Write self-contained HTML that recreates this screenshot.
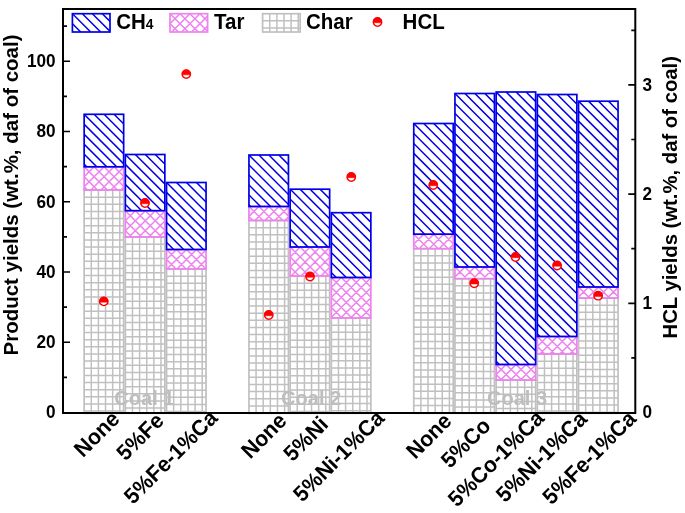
<!DOCTYPE html>
<html><head><meta charset="utf-8"><title>chart</title>
<style>html,body{margin:0;padding:0;background:#fff}svg{display:block;filter:opacity(1)}</style></head>
<body>
<svg width="685" height="513" viewBox="0 0 685 513">
<rect width="685" height="513" fill="#fff"/>
<defs>
<clipPath id="c1"><rect x="84.15" y="190" width="39.5" height="223.3"/></clipPath>
<clipPath id="c2"><rect x="84.15" y="166.8" width="39.5" height="23.2"/></clipPath>
<clipPath id="c3"><rect x="84.15" y="114.3" width="39.5" height="52.5"/></clipPath>
<clipPath id="c4"><rect x="125.35" y="237" width="39.5" height="176.3"/></clipPath>
<clipPath id="c5"><rect x="125.35" y="210.7" width="39.5" height="26.3"/></clipPath>
<clipPath id="c6"><rect x="125.35" y="154.5" width="39.5" height="56.2"/></clipPath>
<clipPath id="c7"><rect x="166.55" y="269" width="39.5" height="144.3"/></clipPath>
<clipPath id="c8"><rect x="166.55" y="249.5" width="39.5" height="19.5"/></clipPath>
<clipPath id="c9"><rect x="166.55" y="182.5" width="39.5" height="67"/></clipPath>
<clipPath id="c10"><rect x="248.95" y="220.5" width="39.5" height="192.8"/></clipPath>
<clipPath id="c11"><rect x="248.95" y="206.5" width="39.5" height="14"/></clipPath>
<clipPath id="c12"><rect x="248.95" y="155" width="39.5" height="51.5"/></clipPath>
<clipPath id="c13"><rect x="290.15" y="276" width="39.5" height="137.3"/></clipPath>
<clipPath id="c14"><rect x="290.15" y="247" width="39.5" height="29"/></clipPath>
<clipPath id="c15"><rect x="290.15" y="189.2" width="39.5" height="57.8"/></clipPath>
<clipPath id="c16"><rect x="331.35" y="318" width="39.5" height="95.3"/></clipPath>
<clipPath id="c17"><rect x="331.35" y="277.5" width="39.5" height="40.5"/></clipPath>
<clipPath id="c18"><rect x="331.35" y="212.7" width="39.5" height="64.8"/></clipPath>
<clipPath id="c19"><rect x="413.75" y="248.7" width="39.5" height="164.6"/></clipPath>
<clipPath id="c20"><rect x="413.75" y="234.2" width="39.5" height="14.5"/></clipPath>
<clipPath id="c21"><rect x="413.75" y="123.5" width="39.5" height="110.7"/></clipPath>
<clipPath id="c22"><rect x="454.95" y="278.7" width="39.5" height="134.6"/></clipPath>
<clipPath id="c23"><rect x="454.95" y="267" width="39.5" height="11.7"/></clipPath>
<clipPath id="c24"><rect x="454.95" y="93.5" width="39.5" height="173.5"/></clipPath>
<clipPath id="c25"><rect x="496.15" y="380" width="39.5" height="33.3"/></clipPath>
<clipPath id="c26"><rect x="496.15" y="364.5" width="39.5" height="15.5"/></clipPath>
<clipPath id="c27"><rect x="496.15" y="92" width="39.5" height="272.5"/></clipPath>
<clipPath id="c28"><rect x="537.35" y="354" width="39.5" height="59.3"/></clipPath>
<clipPath id="c29"><rect x="537.35" y="336.5" width="39.5" height="17.5"/></clipPath>
<clipPath id="c30"><rect x="537.35" y="94.5" width="39.5" height="242"/></clipPath>
<clipPath id="c31"><rect x="578.55" y="298.1" width="39.5" height="115.2"/></clipPath>
<clipPath id="c32"><rect x="578.55" y="287" width="39.5" height="11.1"/></clipPath>
<clipPath id="c33"><rect x="578.55" y="101.2" width="39.5" height="185.8"/></clipPath>
<clipPath id="c34"><rect x="72.4" y="13.7" width="37.6" height="18.3"/></clipPath>
<clipPath id="c35"><rect x="170" y="13.7" width="37.6" height="18.3"/></clipPath>
<clipPath id="c36"><rect x="262.6" y="13.7" width="37.6" height="18.3"/></clipPath>
</defs>
<g clip-path="url(#c1)" stroke="#c0c0c0" stroke-width="1.5" fill="none">
<path d="M91.28 190v223.3M98.41 190v223.3M105.54 190v223.3M112.67 190v223.3M119.8 190v223.3M84.15 197.13h39.5M84.15 204.26h39.5M84.15 211.39h39.5M84.15 218.52h39.5M84.15 225.65h39.5M84.15 232.78h39.5M84.15 239.91h39.5M84.15 247.04h39.5M84.15 254.17h39.5M84.15 261.3h39.5M84.15 268.43h39.5M84.15 275.56h39.5M84.15 282.69h39.5M84.15 289.82h39.5M84.15 296.95h39.5M84.15 304.08h39.5M84.15 311.21h39.5M84.15 318.34h39.5M84.15 325.47h39.5M84.15 332.6h39.5M84.15 339.73h39.5M84.15 346.86h39.5M84.15 353.99h39.5M84.15 361.12h39.5M84.15 368.25h39.5M84.15 375.38h39.5M84.15 382.51h39.5M84.15 389.64h39.5M84.15 396.77h39.5M84.15 403.9h39.5M84.15 411.03h39.5"/>
</g>
<rect x="84.15" y="190" width="39.5" height="223.3" fill="none" stroke="#c0c0c0" stroke-width="1.7"/>
<g clip-path="url(#c4)" stroke="#c0c0c0" stroke-width="1.5" fill="none">
<path d="M132.48 237v176.3M139.61 237v176.3M146.74 237v176.3M153.87 237v176.3M161 237v176.3M125.35 244.13h39.5M125.35 251.26h39.5M125.35 258.39h39.5M125.35 265.52h39.5M125.35 272.65h39.5M125.35 279.78h39.5M125.35 286.91h39.5M125.35 294.04h39.5M125.35 301.17h39.5M125.35 308.3h39.5M125.35 315.43h39.5M125.35 322.56h39.5M125.35 329.69h39.5M125.35 336.82h39.5M125.35 343.95h39.5M125.35 351.08h39.5M125.35 358.21h39.5M125.35 365.34h39.5M125.35 372.47h39.5M125.35 379.6h39.5M125.35 386.73h39.5M125.35 393.86h39.5M125.35 400.99h39.5M125.35 408.12h39.5"/>
</g>
<rect x="125.35" y="237" width="39.5" height="176.3" fill="none" stroke="#c0c0c0" stroke-width="1.7"/>
<g clip-path="url(#c7)" stroke="#c0c0c0" stroke-width="1.5" fill="none">
<path d="M173.68 269v144.3M180.81 269v144.3M187.94 269v144.3M195.07 269v144.3M202.2 269v144.3M166.55 276.13h39.5M166.55 283.26h39.5M166.55 290.39h39.5M166.55 297.52h39.5M166.55 304.65h39.5M166.55 311.78h39.5M166.55 318.91h39.5M166.55 326.04h39.5M166.55 333.17h39.5M166.55 340.3h39.5M166.55 347.43h39.5M166.55 354.56h39.5M166.55 361.69h39.5M166.55 368.82h39.5M166.55 375.95h39.5M166.55 383.08h39.5M166.55 390.21h39.5M166.55 397.34h39.5M166.55 404.47h39.5M166.55 411.6h39.5"/>
</g>
<rect x="166.55" y="269" width="39.5" height="144.3" fill="none" stroke="#c0c0c0" stroke-width="1.7"/>
<g clip-path="url(#c10)" stroke="#c0c0c0" stroke-width="1.5" fill="none">
<path d="M256.08 220.5v192.8M263.21 220.5v192.8M270.34 220.5v192.8M277.47 220.5v192.8M284.6 220.5v192.8M248.95 227.63h39.5M248.95 234.76h39.5M248.95 241.89h39.5M248.95 249.02h39.5M248.95 256.15h39.5M248.95 263.28h39.5M248.95 270.41h39.5M248.95 277.54h39.5M248.95 284.67h39.5M248.95 291.8h39.5M248.95 298.93h39.5M248.95 306.06h39.5M248.95 313.19h39.5M248.95 320.32h39.5M248.95 327.45h39.5M248.95 334.58h39.5M248.95 341.71h39.5M248.95 348.84h39.5M248.95 355.97h39.5M248.95 363.1h39.5M248.95 370.23h39.5M248.95 377.36h39.5M248.95 384.49h39.5M248.95 391.62h39.5M248.95 398.75h39.5M248.95 405.88h39.5M248.95 413.01h39.5"/>
</g>
<rect x="248.95" y="220.5" width="39.5" height="192.8" fill="none" stroke="#c0c0c0" stroke-width="1.7"/>
<g clip-path="url(#c13)" stroke="#c0c0c0" stroke-width="1.5" fill="none">
<path d="M297.28 276v137.3M304.41 276v137.3M311.54 276v137.3M318.67 276v137.3M325.8 276v137.3M290.15 283.13h39.5M290.15 290.26h39.5M290.15 297.39h39.5M290.15 304.52h39.5M290.15 311.65h39.5M290.15 318.78h39.5M290.15 325.91h39.5M290.15 333.04h39.5M290.15 340.17h39.5M290.15 347.3h39.5M290.15 354.43h39.5M290.15 361.56h39.5M290.15 368.69h39.5M290.15 375.82h39.5M290.15 382.95h39.5M290.15 390.08h39.5M290.15 397.21h39.5M290.15 404.34h39.5M290.15 411.47h39.5"/>
</g>
<rect x="290.15" y="276" width="39.5" height="137.3" fill="none" stroke="#c0c0c0" stroke-width="1.7"/>
<g clip-path="url(#c16)" stroke="#c0c0c0" stroke-width="1.5" fill="none">
<path d="M338.48 318v95.3M345.61 318v95.3M352.74 318v95.3M359.87 318v95.3M367 318v95.3M331.35 325.13h39.5M331.35 332.26h39.5M331.35 339.39h39.5M331.35 346.52h39.5M331.35 353.65h39.5M331.35 360.78h39.5M331.35 367.91h39.5M331.35 375.04h39.5M331.35 382.17h39.5M331.35 389.3h39.5M331.35 396.43h39.5M331.35 403.56h39.5M331.35 410.69h39.5"/>
</g>
<rect x="331.35" y="318" width="39.5" height="95.3" fill="none" stroke="#c0c0c0" stroke-width="1.7"/>
<g clip-path="url(#c19)" stroke="#c0c0c0" stroke-width="1.5" fill="none">
<path d="M420.88 248.7v164.6M428.01 248.7v164.6M435.14 248.7v164.6M442.27 248.7v164.6M449.4 248.7v164.6M413.75 255.83h39.5M413.75 262.96h39.5M413.75 270.09h39.5M413.75 277.22h39.5M413.75 284.35h39.5M413.75 291.48h39.5M413.75 298.61h39.5M413.75 305.74h39.5M413.75 312.87h39.5M413.75 320h39.5M413.75 327.13h39.5M413.75 334.26h39.5M413.75 341.39h39.5M413.75 348.52h39.5M413.75 355.65h39.5M413.75 362.78h39.5M413.75 369.91h39.5M413.75 377.04h39.5M413.75 384.17h39.5M413.75 391.3h39.5M413.75 398.43h39.5M413.75 405.56h39.5M413.75 412.69h39.5"/>
</g>
<rect x="413.75" y="248.7" width="39.5" height="164.6" fill="none" stroke="#c0c0c0" stroke-width="1.7"/>
<g clip-path="url(#c22)" stroke="#c0c0c0" stroke-width="1.5" fill="none">
<path d="M462.08 278.7v134.6M469.21 278.7v134.6M476.34 278.7v134.6M483.47 278.7v134.6M490.6 278.7v134.6M454.95 285.83h39.5M454.95 292.96h39.5M454.95 300.09h39.5M454.95 307.22h39.5M454.95 314.35h39.5M454.95 321.48h39.5M454.95 328.61h39.5M454.95 335.74h39.5M454.95 342.87h39.5M454.95 350h39.5M454.95 357.13h39.5M454.95 364.26h39.5M454.95 371.39h39.5M454.95 378.52h39.5M454.95 385.65h39.5M454.95 392.78h39.5M454.95 399.91h39.5M454.95 407.04h39.5"/>
</g>
<rect x="454.95" y="278.7" width="39.5" height="134.6" fill="none" stroke="#c0c0c0" stroke-width="1.7"/>
<g clip-path="url(#c25)" stroke="#c0c0c0" stroke-width="1.5" fill="none">
<path d="M503.28 380v33.3M510.41 380v33.3M517.54 380v33.3M524.67 380v33.3M531.8 380v33.3M496.15 387.13h39.5M496.15 394.26h39.5M496.15 401.39h39.5M496.15 408.52h39.5"/>
</g>
<rect x="496.15" y="380" width="39.5" height="33.3" fill="none" stroke="#c0c0c0" stroke-width="1.7"/>
<g clip-path="url(#c28)" stroke="#c0c0c0" stroke-width="1.5" fill="none">
<path d="M544.48 354v59.3M551.61 354v59.3M558.74 354v59.3M565.87 354v59.3M573 354v59.3M537.35 361.13h39.5M537.35 368.26h39.5M537.35 375.39h39.5M537.35 382.52h39.5M537.35 389.65h39.5M537.35 396.78h39.5M537.35 403.91h39.5M537.35 411.04h39.5"/>
</g>
<rect x="537.35" y="354" width="39.5" height="59.3" fill="none" stroke="#c0c0c0" stroke-width="1.7"/>
<g clip-path="url(#c31)" stroke="#c0c0c0" stroke-width="1.5" fill="none">
<path d="M585.68 298.1v115.2M592.81 298.1v115.2M599.94 298.1v115.2M607.07 298.1v115.2M614.2 298.1v115.2M578.55 305.23h39.5M578.55 312.36h39.5M578.55 319.49h39.5M578.55 326.62h39.5M578.55 333.75h39.5M578.55 340.88h39.5M578.55 348.01h39.5M578.55 355.14h39.5M578.55 362.27h39.5M578.55 369.4h39.5M578.55 376.53h39.5M578.55 383.66h39.5M578.55 390.79h39.5M578.55 397.92h39.5M578.55 405.05h39.5M578.55 412.18h39.5"/>
</g>
<rect x="578.55" y="298.1" width="39.5" height="115.2" fill="none" stroke="#c0c0c0" stroke-width="1.7"/>
<g font-family="Liberation Sans, sans-serif" font-weight="bold" font-size="20.1px" fill="#bebebe"><text transform="translate(114.2 404.6) scale(1 1.03)">Coal 1</text><text transform="translate(281 404.6) scale(1 1.03)">Coal 2</text><text transform="translate(486.9 404.6) scale(1 1.03)">Coal 3</text></g>
<g clip-path="url(#c2)" stroke="#ee82ee" stroke-width="1.5" fill="none">
<path d="M4.35 166.8l23.2 23.2M14.32 166.8l23.2 23.2M24.3 166.8l23.2 23.2M34.27 166.8l23.2 23.2M44.25 166.8l23.2 23.2M54.22 166.8l23.2 23.2M64.2 166.8l23.2 23.2M74.17 166.8l23.2 23.2M84.15 166.8l23.2 23.2M94.12 166.8l23.2 23.2M104.1 166.8l23.2 23.2M114.07 166.8l23.2 23.2M124.05 166.8l23.2 23.2M134.02 166.8l23.2 23.2M144 166.8l23.2 23.2M153.97 166.8l23.2 23.2M163.95 166.8l23.2 23.2M84.15 166.8l-23.2 23.2M94.12 166.8l-23.2 23.2M104.1 166.8l-23.2 23.2M114.07 166.8l-23.2 23.2M124.05 166.8l-23.2 23.2M134.02 166.8l-23.2 23.2M144 166.8l-23.2 23.2M153.97 166.8l-23.2 23.2M163.95 166.8l-23.2 23.2"/>
</g>
<rect x="84.15" y="166.8" width="39.5" height="23.2" fill="none" stroke="#ee82ee" stroke-width="1.7"/>
<g clip-path="url(#c5)" stroke="#ee82ee" stroke-width="1.5" fill="none">
<path d="M45.55 210.7l26.3 26.3M55.52 210.7l26.3 26.3M65.5 210.7l26.3 26.3M75.47 210.7l26.3 26.3M85.45 210.7l26.3 26.3M95.42 210.7l26.3 26.3M105.4 210.7l26.3 26.3M115.38 210.7l26.3 26.3M125.35 210.7l26.3 26.3M135.32 210.7l26.3 26.3M145.3 210.7l26.3 26.3M155.27 210.7l26.3 26.3M165.25 210.7l26.3 26.3M175.22 210.7l26.3 26.3M185.2 210.7l26.3 26.3M195.18 210.7l26.3 26.3M205.15 210.7l26.3 26.3M125.35 210.7l-26.3 26.3M135.32 210.7l-26.3 26.3M145.3 210.7l-26.3 26.3M155.27 210.7l-26.3 26.3M165.25 210.7l-26.3 26.3M175.22 210.7l-26.3 26.3M185.2 210.7l-26.3 26.3M195.18 210.7l-26.3 26.3M205.15 210.7l-26.3 26.3"/>
</g>
<rect x="125.35" y="210.7" width="39.5" height="26.3" fill="none" stroke="#ee82ee" stroke-width="1.7"/>
<g clip-path="url(#c8)" stroke="#ee82ee" stroke-width="1.5" fill="none">
<path d="M96.72 249.5l19.5 19.5M106.7 249.5l19.5 19.5M116.67 249.5l19.5 19.5M126.65 249.5l19.5 19.5M136.62 249.5l19.5 19.5M146.6 249.5l19.5 19.5M156.57 249.5l19.5 19.5M166.55 249.5l19.5 19.5M176.52 249.5l19.5 19.5M186.5 249.5l19.5 19.5M196.47 249.5l19.5 19.5M206.45 249.5l19.5 19.5M216.42 249.5l19.5 19.5M226.4 249.5l19.5 19.5M236.38 249.5l19.5 19.5M166.55 249.5l-19.5 19.5M176.52 249.5l-19.5 19.5M186.5 249.5l-19.5 19.5M196.47 249.5l-19.5 19.5M206.45 249.5l-19.5 19.5M216.42 249.5l-19.5 19.5M226.4 249.5l-19.5 19.5M236.38 249.5l-19.5 19.5"/>
</g>
<rect x="166.55" y="249.5" width="39.5" height="19.5" fill="none" stroke="#ee82ee" stroke-width="1.7"/>
<g clip-path="url(#c11)" stroke="#ee82ee" stroke-width="1.5" fill="none">
<path d="M179.12 206.5l14 14M189.1 206.5l14 14M199.08 206.5l14 14M209.05 206.5l14 14M219.03 206.5l14 14M229 206.5l14 14M238.98 206.5l14 14M248.95 206.5l14 14M258.93 206.5l14 14M268.9 206.5l14 14M278.88 206.5l14 14M288.85 206.5l14 14M298.83 206.5l14 14M308.8 206.5l14 14M318.78 206.5l14 14M248.95 206.5l-14 14M258.93 206.5l-14 14M268.9 206.5l-14 14M278.88 206.5l-14 14M288.85 206.5l-14 14M298.83 206.5l-14 14M308.8 206.5l-14 14M318.78 206.5l-14 14"/>
</g>
<rect x="248.95" y="206.5" width="39.5" height="14" fill="none" stroke="#ee82ee" stroke-width="1.7"/>
<g clip-path="url(#c14)" stroke="#ee82ee" stroke-width="1.5" fill="none">
<path d="M210.35 247l29 29M220.33 247l29 29M230.3 247l29 29M240.28 247l29 29M250.25 247l29 29M260.23 247l29 29M270.2 247l29 29M280.18 247l29 29M290.15 247l29 29M300.13 247l29 29M310.1 247l29 29M320.08 247l29 29M330.05 247l29 29M340.03 247l29 29M350 247l29 29M359.98 247l29 29M369.95 247l29 29M290.15 247l-29 29M300.13 247l-29 29M310.1 247l-29 29M320.08 247l-29 29M330.05 247l-29 29M340.03 247l-29 29M350 247l-29 29M359.98 247l-29 29M369.95 247l-29 29"/>
</g>
<rect x="290.15" y="247" width="39.5" height="29" fill="none" stroke="#ee82ee" stroke-width="1.7"/>
<g clip-path="url(#c17)" stroke="#ee82ee" stroke-width="1.5" fill="none">
<path d="M231.6 277.5l40.5 40.5M241.58 277.5l40.5 40.5M251.55 277.5l40.5 40.5M261.53 277.5l40.5 40.5M271.5 277.5l40.5 40.5M281.48 277.5l40.5 40.5M291.45 277.5l40.5 40.5M301.43 277.5l40.5 40.5M311.4 277.5l40.5 40.5M321.38 277.5l40.5 40.5M331.35 277.5l40.5 40.5M341.33 277.5l40.5 40.5M351.3 277.5l40.5 40.5M361.28 277.5l40.5 40.5M371.25 277.5l40.5 40.5M381.23 277.5l40.5 40.5M391.2 277.5l40.5 40.5M401.18 277.5l40.5 40.5M411.15 277.5l40.5 40.5M421.12 277.5l40.5 40.5M431.1 277.5l40.5 40.5M331.35 277.5l-40.5 40.5M341.33 277.5l-40.5 40.5M351.3 277.5l-40.5 40.5M361.28 277.5l-40.5 40.5M371.25 277.5l-40.5 40.5M381.23 277.5l-40.5 40.5M391.2 277.5l-40.5 40.5M401.18 277.5l-40.5 40.5M411.15 277.5l-40.5 40.5M421.12 277.5l-40.5 40.5M431.1 277.5l-40.5 40.5"/>
</g>
<rect x="331.35" y="277.5" width="39.5" height="40.5" fill="none" stroke="#ee82ee" stroke-width="1.7"/>
<g clip-path="url(#c20)" stroke="#ee82ee" stroke-width="1.5" fill="none">
<path d="M343.93 234.2l14.5 14.5M353.9 234.2l14.5 14.5M363.88 234.2l14.5 14.5M373.85 234.2l14.5 14.5M383.83 234.2l14.5 14.5M393.8 234.2l14.5 14.5M403.78 234.2l14.5 14.5M413.75 234.2l14.5 14.5M423.73 234.2l14.5 14.5M433.7 234.2l14.5 14.5M443.68 234.2l14.5 14.5M453.65 234.2l14.5 14.5M463.63 234.2l14.5 14.5M473.6 234.2l14.5 14.5M483.58 234.2l14.5 14.5M413.75 234.2l-14.5 14.5M423.73 234.2l-14.5 14.5M433.7 234.2l-14.5 14.5M443.68 234.2l-14.5 14.5M453.65 234.2l-14.5 14.5M463.63 234.2l-14.5 14.5M473.6 234.2l-14.5 14.5M483.58 234.2l-14.5 14.5"/>
</g>
<rect x="413.75" y="234.2" width="39.5" height="14.5" fill="none" stroke="#ee82ee" stroke-width="1.7"/>
<g clip-path="url(#c23)" stroke="#ee82ee" stroke-width="1.5" fill="none">
<path d="M385.13 267l11.7 11.7M395.1 267l11.7 11.7M405.08 267l11.7 11.7M415.05 267l11.7 11.7M425.03 267l11.7 11.7M435 267l11.7 11.7M444.98 267l11.7 11.7M454.95 267l11.7 11.7M464.93 267l11.7 11.7M474.9 267l11.7 11.7M484.88 267l11.7 11.7M494.85 267l11.7 11.7M504.83 267l11.7 11.7M514.8 267l11.7 11.7M524.78 267l11.7 11.7M454.95 267l-11.7 11.7M464.93 267l-11.7 11.7M474.9 267l-11.7 11.7M484.88 267l-11.7 11.7M494.85 267l-11.7 11.7M504.83 267l-11.7 11.7M514.8 267l-11.7 11.7M524.78 267l-11.7 11.7"/>
</g>
<rect x="454.95" y="267" width="39.5" height="11.7" fill="none" stroke="#ee82ee" stroke-width="1.7"/>
<g clip-path="url(#c26)" stroke="#ee82ee" stroke-width="1.5" fill="none">
<path d="M426.33 364.5l15.5 15.5M436.3 364.5l15.5 15.5M446.28 364.5l15.5 15.5M456.25 364.5l15.5 15.5M466.23 364.5l15.5 15.5M476.2 364.5l15.5 15.5M486.18 364.5l15.5 15.5M496.15 364.5l15.5 15.5M506.13 364.5l15.5 15.5M516.1 364.5l15.5 15.5M526.08 364.5l15.5 15.5M536.05 364.5l15.5 15.5M546.03 364.5l15.5 15.5M556 364.5l15.5 15.5M565.98 364.5l15.5 15.5M496.15 364.5l-15.5 15.5M506.13 364.5l-15.5 15.5M516.1 364.5l-15.5 15.5M526.08 364.5l-15.5 15.5M536.05 364.5l-15.5 15.5M546.03 364.5l-15.5 15.5M556 364.5l-15.5 15.5M565.98 364.5l-15.5 15.5"/>
</g>
<rect x="496.15" y="364.5" width="39.5" height="15.5" fill="none" stroke="#ee82ee" stroke-width="1.7"/>
<g clip-path="url(#c29)" stroke="#ee82ee" stroke-width="1.5" fill="none">
<path d="M467.53 336.5l17.5 17.5M477.5 336.5l17.5 17.5M487.48 336.5l17.5 17.5M497.45 336.5l17.5 17.5M507.43 336.5l17.5 17.5M517.4 336.5l17.5 17.5M527.38 336.5l17.5 17.5M537.35 336.5l17.5 17.5M547.33 336.5l17.5 17.5M557.3 336.5l17.5 17.5M567.27 336.5l17.5 17.5M577.25 336.5l17.5 17.5M587.23 336.5l17.5 17.5M597.2 336.5l17.5 17.5M607.18 336.5l17.5 17.5M537.35 336.5l-17.5 17.5M547.33 336.5l-17.5 17.5M557.3 336.5l-17.5 17.5M567.27 336.5l-17.5 17.5M577.25 336.5l-17.5 17.5M587.23 336.5l-17.5 17.5M597.2 336.5l-17.5 17.5M607.18 336.5l-17.5 17.5"/>
</g>
<rect x="537.35" y="336.5" width="39.5" height="17.5" fill="none" stroke="#ee82ee" stroke-width="1.7"/>
<g clip-path="url(#c32)" stroke="#ee82ee" stroke-width="1.5" fill="none">
<path d="M508.73 287l11.1 11.1M518.7 287l11.1 11.1M528.68 287l11.1 11.1M538.65 287l11.1 11.1M548.63 287l11.1 11.1M558.6 287l11.1 11.1M568.58 287l11.1 11.1M578.55 287l11.1 11.1M588.53 287l11.1 11.1M598.5 287l11.1 11.1M608.48 287l11.1 11.1M618.45 287l11.1 11.1M628.43 287l11.1 11.1M638.4 287l11.1 11.1M648.38 287l11.1 11.1M578.55 287l-11.1 11.1M588.53 287l-11.1 11.1M598.5 287l-11.1 11.1M608.48 287l-11.1 11.1M618.45 287l-11.1 11.1M628.43 287l-11.1 11.1M638.4 287l-11.1 11.1M648.38 287l-11.1 11.1"/>
</g>
<rect x="578.55" y="287" width="39.5" height="11.1" fill="none" stroke="#ee82ee" stroke-width="1.7"/>
<g clip-path="url(#c3)" stroke="#0000e8" stroke-width="1.5" fill="none">
<path d="M-25.58 114.3l52.5 52.5M-15.6 114.3l52.5 52.5M-5.62 114.3l52.5 52.5M4.35 114.3l52.5 52.5M14.32 114.3l52.5 52.5M24.3 114.3l52.5 52.5M34.27 114.3l52.5 52.5M44.25 114.3l52.5 52.5M54.22 114.3l52.5 52.5M64.2 114.3l52.5 52.5M74.17 114.3l52.5 52.5M84.15 114.3l52.5 52.5M94.12 114.3l52.5 52.5M104.1 114.3l52.5 52.5M114.07 114.3l52.5 52.5M124.05 114.3l52.5 52.5M134.02 114.3l52.5 52.5M144 114.3l52.5 52.5M153.97 114.3l52.5 52.5M163.95 114.3l52.5 52.5M173.92 114.3l52.5 52.5M183.9 114.3l52.5 52.5M193.88 114.3l52.5 52.5"/>
</g>
<rect x="84.15" y="114.3" width="39.5" height="52.5" fill="none" stroke="#0000e8" stroke-width="1.7"/>
<g clip-path="url(#c6)" stroke="#0000e8" stroke-width="1.5" fill="none">
<path d="M15.62 154.5l56.2 56.2M25.6 154.5l56.2 56.2M35.58 154.5l56.2 56.2M45.55 154.5l56.2 56.2M55.52 154.5l56.2 56.2M65.5 154.5l56.2 56.2M75.47 154.5l56.2 56.2M85.45 154.5l56.2 56.2M95.42 154.5l56.2 56.2M105.4 154.5l56.2 56.2M115.38 154.5l56.2 56.2M125.35 154.5l56.2 56.2M135.32 154.5l56.2 56.2M145.3 154.5l56.2 56.2M155.27 154.5l56.2 56.2M165.25 154.5l56.2 56.2M175.22 154.5l56.2 56.2M185.2 154.5l56.2 56.2M195.18 154.5l56.2 56.2M205.15 154.5l56.2 56.2M215.12 154.5l56.2 56.2M225.1 154.5l56.2 56.2M235.07 154.5l56.2 56.2"/>
</g>
<rect x="125.35" y="154.5" width="39.5" height="56.2" fill="none" stroke="#0000e8" stroke-width="1.7"/>
<g clip-path="url(#c9)" stroke="#0000e8" stroke-width="1.5" fill="none">
<path d="M46.85 182.5l67 67M56.82 182.5l67 67M66.8 182.5l67 67M76.77 182.5l67 67M86.75 182.5l67 67M96.72 182.5l67 67M106.7 182.5l67 67M116.67 182.5l67 67M126.65 182.5l67 67M136.62 182.5l67 67M146.6 182.5l67 67M156.57 182.5l67 67M166.55 182.5l67 67M176.52 182.5l67 67M186.5 182.5l67 67M196.47 182.5l67 67M206.45 182.5l67 67M216.42 182.5l67 67M226.4 182.5l67 67M236.38 182.5l67 67M246.35 182.5l67 67M256.32 182.5l67 67M266.3 182.5l67 67M276.27 182.5l67 67M286.25 182.5l67 67"/>
</g>
<rect x="166.55" y="182.5" width="39.5" height="67" fill="none" stroke="#0000e8" stroke-width="1.7"/>
<g clip-path="url(#c12)" stroke="#0000e8" stroke-width="1.5" fill="none">
<path d="M139.23 155l51.5 51.5M149.2 155l51.5 51.5M159.18 155l51.5 51.5M169.15 155l51.5 51.5M179.12 155l51.5 51.5M189.1 155l51.5 51.5M199.08 155l51.5 51.5M209.05 155l51.5 51.5M219.03 155l51.5 51.5M229 155l51.5 51.5M238.98 155l51.5 51.5M248.95 155l51.5 51.5M258.93 155l51.5 51.5M268.9 155l51.5 51.5M278.88 155l51.5 51.5M288.85 155l51.5 51.5M298.83 155l51.5 51.5M308.8 155l51.5 51.5M318.78 155l51.5 51.5M328.75 155l51.5 51.5M338.73 155l51.5 51.5M348.7 155l51.5 51.5M358.68 155l51.5 51.5"/>
</g>
<rect x="248.95" y="155" width="39.5" height="51.5" fill="none" stroke="#0000e8" stroke-width="1.7"/>
<g clip-path="url(#c15)" stroke="#0000e8" stroke-width="1.5" fill="none">
<path d="M180.43 189.2l57.8 57.8M190.4 189.2l57.8 57.8M200.38 189.2l57.8 57.8M210.35 189.2l57.8 57.8M220.33 189.2l57.8 57.8M230.3 189.2l57.8 57.8M240.28 189.2l57.8 57.8M250.25 189.2l57.8 57.8M260.23 189.2l57.8 57.8M270.2 189.2l57.8 57.8M280.18 189.2l57.8 57.8M290.15 189.2l57.8 57.8M300.13 189.2l57.8 57.8M310.1 189.2l57.8 57.8M320.08 189.2l57.8 57.8M330.05 189.2l57.8 57.8M340.03 189.2l57.8 57.8M350 189.2l57.8 57.8M359.98 189.2l57.8 57.8M369.95 189.2l57.8 57.8M379.93 189.2l57.8 57.8M389.9 189.2l57.8 57.8M399.88 189.2l57.8 57.8"/>
</g>
<rect x="290.15" y="189.2" width="39.5" height="57.8" fill="none" stroke="#0000e8" stroke-width="1.7"/>
<g clip-path="url(#c18)" stroke="#0000e8" stroke-width="1.5" fill="none">
<path d="M211.65 212.7l64.8 64.8M221.63 212.7l64.8 64.8M231.6 212.7l64.8 64.8M241.58 212.7l64.8 64.8M251.55 212.7l64.8 64.8M261.53 212.7l64.8 64.8M271.5 212.7l64.8 64.8M281.48 212.7l64.8 64.8M291.45 212.7l64.8 64.8M301.43 212.7l64.8 64.8M311.4 212.7l64.8 64.8M321.38 212.7l64.8 64.8M331.35 212.7l64.8 64.8M341.33 212.7l64.8 64.8M351.3 212.7l64.8 64.8M361.28 212.7l64.8 64.8M371.25 212.7l64.8 64.8M381.23 212.7l64.8 64.8M391.2 212.7l64.8 64.8M401.18 212.7l64.8 64.8M411.15 212.7l64.8 64.8M421.12 212.7l64.8 64.8M431.1 212.7l64.8 64.8M441.08 212.7l64.8 64.8M451.05 212.7l64.8 64.8"/>
</g>
<rect x="331.35" y="212.7" width="39.5" height="64.8" fill="none" stroke="#0000e8" stroke-width="1.7"/>
<g clip-path="url(#c21)" stroke="#0000e8" stroke-width="1.5" fill="none">
<path d="M244.18 123.5l110.7 110.7M254.15 123.5l110.7 110.7M264.13 123.5l110.7 110.7M274.1 123.5l110.7 110.7M284.08 123.5l110.7 110.7M294.05 123.5l110.7 110.7M304.03 123.5l110.7 110.7M314 123.5l110.7 110.7M323.98 123.5l110.7 110.7M333.95 123.5l110.7 110.7M343.93 123.5l110.7 110.7M353.9 123.5l110.7 110.7M363.88 123.5l110.7 110.7M373.85 123.5l110.7 110.7M383.83 123.5l110.7 110.7M393.8 123.5l110.7 110.7M403.78 123.5l110.7 110.7M413.75 123.5l110.7 110.7M423.73 123.5l110.7 110.7M433.7 123.5l110.7 110.7M443.68 123.5l110.7 110.7M453.65 123.5l110.7 110.7M463.63 123.5l110.7 110.7M473.6 123.5l110.7 110.7M483.58 123.5l110.7 110.7M493.55 123.5l110.7 110.7M503.53 123.5l110.7 110.7M513.5 123.5l110.7 110.7M523.48 123.5l110.7 110.7M533.45 123.5l110.7 110.7M543.43 123.5l110.7 110.7M553.4 123.5l110.7 110.7M563.38 123.5l110.7 110.7M573.35 123.5l110.7 110.7M583.33 123.5l110.7 110.7"/>
</g>
<rect x="413.75" y="123.5" width="39.5" height="110.7" fill="none" stroke="#0000e8" stroke-width="1.7"/>
<g clip-path="url(#c24)" stroke="#0000e8" stroke-width="1.5" fill="none">
<path d="M225.53 93.5l173.5 173.5M235.5 93.5l173.5 173.5M245.48 93.5l173.5 173.5M255.45 93.5l173.5 173.5M265.43 93.5l173.5 173.5M275.4 93.5l173.5 173.5M285.38 93.5l173.5 173.5M295.35 93.5l173.5 173.5M305.33 93.5l173.5 173.5M315.3 93.5l173.5 173.5M325.28 93.5l173.5 173.5M335.25 93.5l173.5 173.5M345.23 93.5l173.5 173.5M355.2 93.5l173.5 173.5M365.18 93.5l173.5 173.5M375.15 93.5l173.5 173.5M385.13 93.5l173.5 173.5M395.1 93.5l173.5 173.5M405.08 93.5l173.5 173.5M415.05 93.5l173.5 173.5M425.03 93.5l173.5 173.5M435 93.5l173.5 173.5M444.98 93.5l173.5 173.5M454.95 93.5l173.5 173.5M464.93 93.5l173.5 173.5M474.9 93.5l173.5 173.5M484.88 93.5l173.5 173.5M494.85 93.5l173.5 173.5M504.83 93.5l173.5 173.5M514.8 93.5l173.5 173.5M524.78 93.5l173.5 173.5M534.75 93.5l173.5 173.5M544.73 93.5l173.5 173.5M554.7 93.5l173.5 173.5M564.68 93.5l173.5 173.5M574.65 93.5l173.5 173.5M584.62 93.5l173.5 173.5M594.6 93.5l173.5 173.5M604.58 93.5l173.5 173.5M614.55 93.5l173.5 173.5M624.53 93.5l173.5 173.5M634.5 93.5l173.5 173.5M644.48 93.5l173.5 173.5M654.45 93.5l173.5 173.5M664.43 93.5l173.5 173.5M674.4 93.5l173.5 173.5M684.38 93.5l173.5 173.5"/>
</g>
<rect x="454.95" y="93.5" width="39.5" height="173.5" fill="none" stroke="#0000e8" stroke-width="1.7"/>
<g clip-path="url(#c27)" stroke="#0000e8" stroke-width="1.5" fill="none">
<path d="M166.98 92l272.5 272.5M176.95 92l272.5 272.5M186.93 92l272.5 272.5M196.9 92l272.5 272.5M206.88 92l272.5 272.5M216.85 92l272.5 272.5M226.83 92l272.5 272.5M236.8 92l272.5 272.5M246.78 92l272.5 272.5M256.75 92l272.5 272.5M266.73 92l272.5 272.5M276.7 92l272.5 272.5M286.68 92l272.5 272.5M296.65 92l272.5 272.5M306.62 92l272.5 272.5M316.6 92l272.5 272.5M326.58 92l272.5 272.5M336.55 92l272.5 272.5M346.53 92l272.5 272.5M356.5 92l272.5 272.5M366.48 92l272.5 272.5M376.45 92l272.5 272.5M386.43 92l272.5 272.5M396.4 92l272.5 272.5M406.38 92l272.5 272.5M416.35 92l272.5 272.5M426.33 92l272.5 272.5M436.3 92l272.5 272.5M446.28 92l272.5 272.5M456.25 92l272.5 272.5M466.23 92l272.5 272.5M476.2 92l272.5 272.5M486.18 92l272.5 272.5M496.15 92l272.5 272.5M506.13 92l272.5 272.5M516.1 92l272.5 272.5M526.08 92l272.5 272.5M536.05 92l272.5 272.5M546.03 92l272.5 272.5M556 92l272.5 272.5M565.98 92l272.5 272.5M575.95 92l272.5 272.5M585.93 92l272.5 272.5M595.9 92l272.5 272.5M605.88 92l272.5 272.5M615.85 92l272.5 272.5M625.83 92l272.5 272.5M635.8 92l272.5 272.5M645.78 92l272.5 272.5M655.75 92l272.5 272.5M665.73 92l272.5 272.5M675.7 92l272.5 272.5M685.68 92l272.5 272.5M695.65 92l272.5 272.5M705.62 92l272.5 272.5M715.6 92l272.5 272.5M725.58 92l272.5 272.5M735.55 92l272.5 272.5M745.53 92l272.5 272.5M755.5 92l272.5 272.5M765.48 92l272.5 272.5M775.45 92l272.5 272.5M785.42 92l272.5 272.5M795.4 92l272.5 272.5M805.38 92l272.5 272.5M815.35 92l272.5 272.5M825.33 92l272.5 272.5"/>
</g>
<rect x="496.15" y="92" width="39.5" height="272.5" fill="none" stroke="#0000e8" stroke-width="1.7"/>
<g clip-path="url(#c30)" stroke="#0000e8" stroke-width="1.5" fill="none">
<path d="M238.1 94.5l242 242M248.08 94.5l242 242M258.05 94.5l242 242M268.03 94.5l242 242M278 94.5l242 242M287.98 94.5l242 242M297.95 94.5l242 242M307.93 94.5l242 242M317.9 94.5l242 242M327.88 94.5l242 242M337.85 94.5l242 242M347.83 94.5l242 242M357.8 94.5l242 242M367.78 94.5l242 242M377.75 94.5l242 242M387.73 94.5l242 242M397.7 94.5l242 242M407.68 94.5l242 242M417.65 94.5l242 242M427.62 94.5l242 242M437.6 94.5l242 242M447.58 94.5l242 242M457.55 94.5l242 242M467.53 94.5l242 242M477.5 94.5l242 242M487.48 94.5l242 242M497.45 94.5l242 242M507.43 94.5l242 242M517.4 94.5l242 242M527.38 94.5l242 242M537.35 94.5l242 242M547.33 94.5l242 242M557.3 94.5l242 242M567.27 94.5l242 242M577.25 94.5l242 242M587.23 94.5l242 242M597.2 94.5l242 242M607.18 94.5l242 242M617.15 94.5l242 242M627.12 94.5l242 242M637.1 94.5l242 242M647.08 94.5l242 242M657.05 94.5l242 242M667.02 94.5l242 242M677 94.5l242 242M686.98 94.5l242 242M696.95 94.5l242 242M706.92 94.5l242 242M716.9 94.5l242 242M726.88 94.5l242 242M736.85 94.5l242 242M746.83 94.5l242 242M756.8 94.5l242 242M766.77 94.5l242 242M776.75 94.5l242 242M786.73 94.5l242 242M796.7 94.5l242 242M806.67 94.5l242 242M816.65 94.5l242 242M826.62 94.5l242 242M836.6 94.5l242 242"/>
</g>
<rect x="537.35" y="94.5" width="39.5" height="242" fill="none" stroke="#0000e8" stroke-width="1.7"/>
<g clip-path="url(#c33)" stroke="#0000e8" stroke-width="1.5" fill="none">
<path d="M339.15 101.2l185.8 185.8M349.13 101.2l185.8 185.8M359.1 101.2l185.8 185.8M369.08 101.2l185.8 185.8M379.05 101.2l185.8 185.8M389.03 101.2l185.8 185.8M399 101.2l185.8 185.8M408.98 101.2l185.8 185.8M418.95 101.2l185.8 185.8M428.93 101.2l185.8 185.8M438.9 101.2l185.8 185.8M448.88 101.2l185.8 185.8M458.85 101.2l185.8 185.8M468.83 101.2l185.8 185.8M478.8 101.2l185.8 185.8M488.78 101.2l185.8 185.8M498.75 101.2l185.8 185.8M508.73 101.2l185.8 185.8M518.7 101.2l185.8 185.8M528.68 101.2l185.8 185.8M538.65 101.2l185.8 185.8M548.63 101.2l185.8 185.8M558.6 101.2l185.8 185.8M568.58 101.2l185.8 185.8M578.55 101.2l185.8 185.8M588.53 101.2l185.8 185.8M598.5 101.2l185.8 185.8M608.48 101.2l185.8 185.8M618.45 101.2l185.8 185.8M628.43 101.2l185.8 185.8M638.4 101.2l185.8 185.8M648.38 101.2l185.8 185.8M658.35 101.2l185.8 185.8M668.33 101.2l185.8 185.8M678.3 101.2l185.8 185.8M688.28 101.2l185.8 185.8M698.25 101.2l185.8 185.8M708.23 101.2l185.8 185.8M718.2 101.2l185.8 185.8M728.18 101.2l185.8 185.8M738.15 101.2l185.8 185.8M748.12 101.2l185.8 185.8M758.1 101.2l185.8 185.8M768.08 101.2l185.8 185.8M778.05 101.2l185.8 185.8M788.03 101.2l185.8 185.8M798 101.2l185.8 185.8M807.98 101.2l185.8 185.8M817.95 101.2l185.8 185.8"/>
</g>
<rect x="578.55" y="101.2" width="39.5" height="185.8" fill="none" stroke="#0000e8" stroke-width="1.7"/>
<rect x="63" y="9" width="572.3" height="404" fill="none" stroke="#000" stroke-width="2"/>
<path d="M63 377.38h4M63 342.25h7M63 307.12h4M63 272h7M63 236.88h4M63 201.75h7M63 166.62h4M63 131.5h7M63 96.38h4M63 61.25h7M63 26.12h4M635.3 357.9h-4M635.3 303.3h-7M635.3 248.7h-4M635.3 194.1h-7M635.3 139.5h-4M635.3 84.9h-7M635.3 30.3h-4" stroke="#000" stroke-width="1.7" fill="none"/>
<g font-family="Liberation Sans, sans-serif" font-weight="bold" font-size="17.2px" fill="#000">
<text transform="translate(55.6 417.5) scale(1 1.04)" text-anchor="end">0</text>
<text transform="translate(55.6 348.05) scale(1 1.04)" text-anchor="end">20</text>
<text transform="translate(55.6 277.8) scale(1 1.04)" text-anchor="end">40</text>
<text transform="translate(55.6 207.55) scale(1 1.04)" text-anchor="end">60</text>
<text transform="translate(55.6 137.3) scale(1 1.04)" text-anchor="end">80</text>
<text transform="translate(55.6 67.05) scale(1 1.04)" text-anchor="end">100</text>
<text transform="translate(642.5 417.5) scale(1 1.04)">0</text>
<text transform="translate(642.5 309.1) scale(1 1.04)">1</text>
<text transform="translate(642.5 199.9) scale(1 1.04)">2</text>
<text transform="translate(642.5 90.7) scale(1 1.04)">3</text>
</g>
<g transform="translate(103.8 301.4)"><circle r="4.2" fill="#fff" stroke="#ff0000" stroke-width="1.4"/><path d="M-4.13 0.75A4.2 4.2 0 1 1 4.13 0.75Z" stroke="#ff0000" stroke-width="0.5" fill="#ff0000"/></g>
<g transform="translate(145 203)"><circle r="4.2" fill="#fff" stroke="#ff0000" stroke-width="1.4"/><path d="M-4.13 0.75A4.2 4.2 0 1 1 4.13 0.75Z" stroke="#ff0000" stroke-width="0.5" fill="#ff0000"/></g>
<g transform="translate(186.3 74.1)"><circle r="4.2" fill="#fff" stroke="#ff0000" stroke-width="1.4"/><path d="M-4.13 0.75A4.2 4.2 0 1 1 4.13 0.75Z" stroke="#ff0000" stroke-width="0.5" fill="#ff0000"/></g>
<g transform="translate(268.75 315)"><circle r="4.2" fill="#fff" stroke="#ff0000" stroke-width="1.4"/><path d="M-4.13 0.75A4.2 4.2 0 1 1 4.13 0.75Z" stroke="#ff0000" stroke-width="0.5" fill="#ff0000"/></g>
<g transform="translate(310 276.5)"><circle r="4.2" fill="#fff" stroke="#ff0000" stroke-width="1.4"/><path d="M-4.13 0.75A4.2 4.2 0 1 1 4.13 0.75Z" stroke="#ff0000" stroke-width="0.5" fill="#ff0000"/></g>
<g transform="translate(351.25 177)"><circle r="4.2" fill="#fff" stroke="#ff0000" stroke-width="1.4"/><path d="M-4.13 0.75A4.2 4.2 0 1 1 4.13 0.75Z" stroke="#ff0000" stroke-width="0.5" fill="#ff0000"/></g>
<g transform="translate(433.25 185)"><circle r="4.2" fill="#fff" stroke="#ff0000" stroke-width="1.4"/><path d="M-4.13 0.75A4.2 4.2 0 1 1 4.13 0.75Z" stroke="#ff0000" stroke-width="0.5" fill="#ff0000"/></g>
<g transform="translate(474.25 283.25)"><circle r="4.2" fill="#fff" stroke="#ff0000" stroke-width="1.4"/><path d="M-4.13 0.75A4.2 4.2 0 1 1 4.13 0.75Z" stroke="#ff0000" stroke-width="0.5" fill="#ff0000"/></g>
<g transform="translate(515.5 257)"><circle r="4.2" fill="#fff" stroke="#ff0000" stroke-width="1.4"/><path d="M-4.13 0.75A4.2 4.2 0 1 1 4.13 0.75Z" stroke="#ff0000" stroke-width="0.5" fill="#ff0000"/></g>
<g transform="translate(557.1 265.5)"><circle r="4.2" fill="#fff" stroke="#ff0000" stroke-width="1.4"/><path d="M-4.13 0.75A4.2 4.2 0 1 1 4.13 0.75Z" stroke="#ff0000" stroke-width="0.5" fill="#ff0000"/></g>
<g transform="translate(598.1 295.7)"><circle r="4.2" fill="#fff" stroke="#ff0000" stroke-width="1.4"/><path d="M-4.13 0.75A4.2 4.2 0 1 1 4.13 0.75Z" stroke="#ff0000" stroke-width="0.5" fill="#ff0000"/></g>
<g font-family="Liberation Sans, sans-serif" font-weight="bold" font-size="21.4px" fill="#000" text-anchor="end">
<text transform="translate(120.83 420.4) rotate(-45) scale(1 1.03)">None</text>
<text transform="translate(165.1 422.1) rotate(-45) scale(1 1.03)">5%Fe</text>
<text transform="translate(218.84 419.4) rotate(-45) scale(1 1.03)">5%Fe-1%Ca</text>
<text transform="translate(288.03 422) rotate(-45) scale(1 1.03)">None</text>
<text transform="translate(329.52 425.6) rotate(-45) scale(1 1.03)">5%Ni</text>
<text transform="translate(385.56 419.7) rotate(-45) scale(1 1.03)">5%Ni-1%Ca</text>
<text transform="translate(453.03 422.3) rotate(-45) scale(1 1.03)">None</text>
<text transform="translate(491.96 427.2) rotate(-45) scale(1 1.03)">5%Co</text>
<text transform="translate(545.4 419.6) rotate(-45) scale(1 1.03)">5%Co-1%Ca</text>
<text transform="translate(588.36 420.3) rotate(-45) scale(1 1.03)">5%Ni-1%Ca</text>
<text transform="translate(637.34 420) rotate(-45) scale(1 1.03)">5%Fe-1%Ca</text>
</g>
<g font-family="Liberation Sans, sans-serif" font-weight="bold" font-size="20px" fill="#000"><text transform="translate(17.7 355.5) rotate(-90)" textLength="321" lengthAdjust="spacingAndGlyphs">Product yields (wt.%, daf of coal)</text><text transform="translate(677.2 338.5) rotate(-90)" textLength="282.5" lengthAdjust="spacingAndGlyphs">HCL yields (wt.%, daf of coal)</text></g>
<g clip-path="url(#c34)" stroke="#0000e8" stroke-width="1.5" fill="none">
<path d="M2.58 13.7l18.3 18.3M12.55 13.7l18.3 18.3M22.53 13.7l18.3 18.3M32.5 13.7l18.3 18.3M42.48 13.7l18.3 18.3M52.45 13.7l18.3 18.3M62.43 13.7l18.3 18.3M72.4 13.7l18.3 18.3M82.38 13.7l18.3 18.3M92.35 13.7l18.3 18.3M102.33 13.7l18.3 18.3M112.3 13.7l18.3 18.3M122.28 13.7l18.3 18.3M132.25 13.7l18.3 18.3M142.23 13.7l18.3 18.3"/>
</g>
<rect x="72.4" y="13.7" width="37.6" height="18.3" fill="none" stroke="#0000e8" stroke-width="1.7"/>
<g clip-path="url(#c35)" stroke="#ee82ee" stroke-width="1.5" fill="none">
<path d="M100.17 13.7l18.3 18.3M110.15 13.7l18.3 18.3M120.12 13.7l18.3 18.3M130.1 13.7l18.3 18.3M140.07 13.7l18.3 18.3M150.05 13.7l18.3 18.3M160.03 13.7l18.3 18.3M170 13.7l18.3 18.3M179.97 13.7l18.3 18.3M189.95 13.7l18.3 18.3M199.93 13.7l18.3 18.3M209.9 13.7l18.3 18.3M219.88 13.7l18.3 18.3M229.85 13.7l18.3 18.3M239.82 13.7l18.3 18.3M170 13.7l-18.3 18.3M179.97 13.7l-18.3 18.3M189.95 13.7l-18.3 18.3M199.93 13.7l-18.3 18.3M209.9 13.7l-18.3 18.3M219.88 13.7l-18.3 18.3M229.85 13.7l-18.3 18.3M239.82 13.7l-18.3 18.3"/>
</g>
<rect x="170" y="13.7" width="37.6" height="18.3" fill="none" stroke="#ee82ee" stroke-width="1.7"/>
<g clip-path="url(#c36)" stroke="#c0c0c0" stroke-width="1.5" fill="none">
<path d="M269.73 13.7v18.3M276.86 13.7v18.3M283.99 13.7v18.3M291.12 13.7v18.3M298.25 13.7v18.3M262.6 20.83h37.6M262.6 27.96h37.6"/>
</g>
<rect x="262.6" y="13.7" width="37.6" height="18.3" fill="none" stroke="#c0c0c0" stroke-width="1.7"/>
<g transform="translate(377.5 22)"><circle r="4.2" fill="#fff" stroke="#ff0000" stroke-width="1.4"/><path d="M-4.13 0.75A4.2 4.2 0 1 1 4.13 0.75Z" stroke="#ff0000" stroke-width="0.5" fill="#ff0000"/></g>
<g font-family="Liberation Sans, sans-serif" font-weight="bold" font-size="20.5px" fill="#000"><text transform="translate(116.2 28.9) scale(1 1.04)">CH<tspan font-size="13.8px">4</tspan></text><text transform="translate(214 28.9) scale(1 1.04)">Tar</text><text transform="translate(306 28.9) scale(1 1.04)">Char</text><text transform="translate(402.6 28.9) scale(1 1.04)">HCL</text></g>
</svg>
</body></html>
